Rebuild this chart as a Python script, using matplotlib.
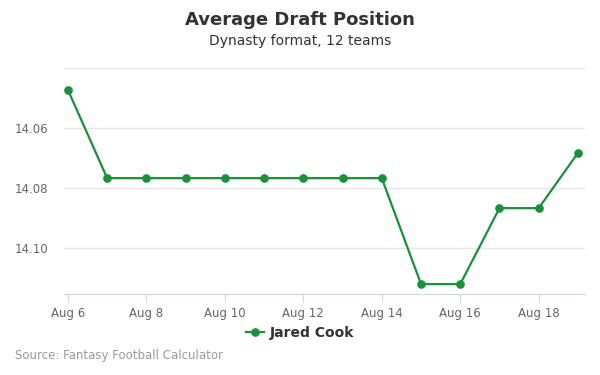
import matplotlib.pyplot as plt

dates = ["Aug 6", "Aug 7", "Aug 8", "Aug 9", "Aug 10", "Aug 11", "Aug 12",
         "Aug 13", "Aug 14", "Aug 15", "Aug 16", "Aug 17", "Aug 18", "Aug 19"]
adp = [14.0473, 14.0767, 14.0767, 14.0767, 14.0767, 14.0767, 14.0767,
       14.0767, 14.0767, 14.112, 14.112, 14.0867, 14.0867, 14.0683]
y_ticks = [14.06, 14.08, 14.10]

line_color = "#1a8f3c"

fig = plt.figure(figsize=(6, 3.75), dpi=100)
ax = fig.add_axes([64 / 600, 1 - 294 / 375, 521 / 600, 226 / 375])

x = list(range(len(dates)))
ax.plot(x, adp, color=line_color, lw=1.6, marker="o", ms=5.2, zorder=3)

ax.set_xlim(-0.1, 13.18)
ax.set_ylim(14.1153, 14.04)

# grid lines incl. the unlabeled top one
for g in [14.04] + y_ticks:
    ax.axhline(g, color="#e6e6e6", lw=0.9, zorder=1)
ax.set_yticks(y_ticks)
ax.set_yticklabels([f"{v:.2f}" for v in y_ticks])

ax.set_xticks(x[::2])
ax.set_xticklabels(dates[::2])

for side in ["top", "right", "left"]:
    ax.spines[side].set_visible(False)
ax.spines["bottom"].set_color("#ccd6eb")
ax.tick_params(axis="x", colors="#ccd6eb", length=6, labelcolor="#666666",
               labelsize=8.5, pad=3)
ax.tick_params(axis="y", length=0, labelcolor="#666666", labelsize=8.5, pad=11.5)

fig.text(0.5, 1 - 20 / 375, "Average Draft Position", ha="center", va="center",
         fontsize=13, fontweight="bold", color="#333333")
fig.text(0.5, 1 - 41 / 375, "Dynasty format, 12 teams", ha="center", va="center",
         fontsize=10, color="#333333")

ax.plot([], [], color=line_color, lw=1.6, marker="o", ms=5.2, label="Jared Cook")
leg = ax.legend(loc="center", bbox_to_anchor=(300 / 600, 1 - 333 / 375),
                bbox_transform=fig.transFigure, frameon=False, handlelength=1.3,
                handletextpad=0.4, prop={"weight": "bold", "size": 10})
for t in leg.get_texts():
    t.set_color("#333333")

fig.text(15 / 600, 1 - 356 / 375, "Source: Fantasy Football Calculator",
         ha="left", va="center", fontsize=8.5, color="#999999")

fig.savefig("out.png", dpi=100)
